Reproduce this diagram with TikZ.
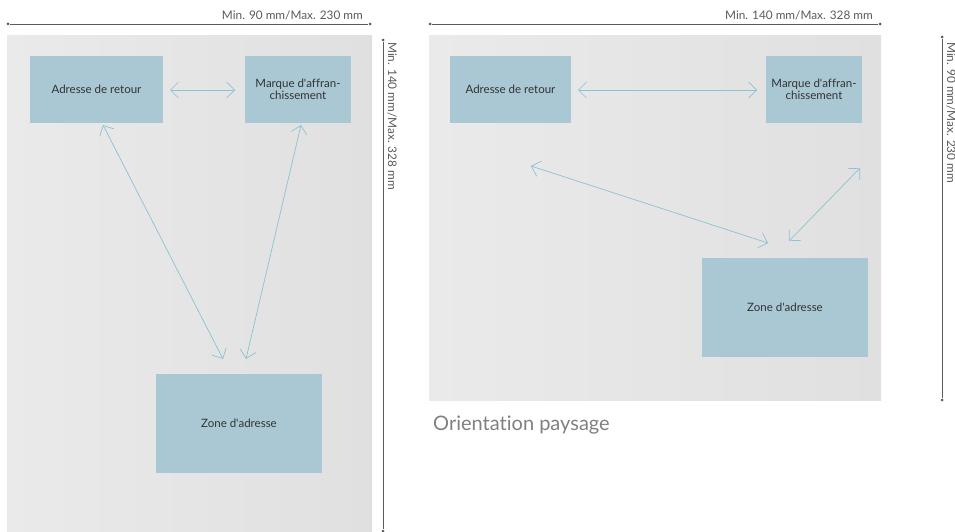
\documentclass[tikz,border=0pt]{standalone}
\usepackage{fontspec}
\setmainfont{Lato}[Ligatures=NoCommon]
\usetikzlibrary{arrows.meta}
\definecolor{boxblue}{HTML}{A9C8D3}
\definecolor{arrowblue}{HTML}{8CC2D4}
\definecolor{paper}{HTML}{EAEAEA}
\definecolor{paperdark}{HTML}{E0E0E0}
\definecolor{dimgray}{HTML}{5A5A5A}
\definecolor{txtgray}{HTML}{333333}
\tikzset{
  sheet/.style={draw=none, left color=paper, right color=paperdark},
  field/.style={fill=boxblue, draw=none, text=txtgray, font=\fontsize{11.5}{11.5}\selectfont, align=center, inner sep=0pt},
  link/.style={draw=arrowblue, line width=0.7pt, {Straight Barb[length=8pt,width=16pt,line width=0.7pt]}-{Straight Barb[length=8pt,width=16pt,line width=0.7pt]}},
  dimline/.style={draw=dimgray, line width=0.7pt},
  dimdot/.style={circle, fill=dimgray, inner sep=0pt, minimum size=3pt},
  dimtext/.style={text=dimgray, font=\fontsize{11.8}{12}\selectfont, inner sep=0pt},
}
\begin{document}
\begin{tikzpicture}[x=1pt,y=-1pt]
\useasboundingbox (0,0) rectangle (955,532);
% ===== left (portrait) =====
\fill[sheet] (7,36) rectangle (372,532);
\node[dimdot] (lt1) at (8,24) {};
\node[dimdot] (lt2) at (370,24) {};
\draw[dimline] (lt1) -- (lt2);
\node[dimtext, anchor=south east] (ltt) at (363,20) {Min. 90 mm/Max. 230 mm};
\node[dimdot] (lv1) at (383,40) {};
\node[dimdot] (lv2) at (383,531) {};
\draw[dimline] (lv1) -- (lv2);
\node[dimtext, rotate=-90, anchor=north west] (lvt) at (397,42) {Min. 140 mm/Max. 328 mm};

\node[field, minimum width=133pt, minimum height=67pt] (la) at (96.5,89.5) {Adresse de retour};
\node[field, minimum width=106pt, minimum height=67pt] (lm) at (298,89.5) {Marque d\textquotesingle affran-\\chissement};
\node[field, minimum width=166pt, minimum height=99pt] (lz) at (239,423.5) {Zone d\textquotesingle adresse};
\coordinate (la1) at (170,90);
\coordinate (lm1) at (235,90);
\draw[link] (la1) -- (lm1);
\coordinate (la2) at (103,125);
\coordinate (lz1) at (223,359);
\draw[link] (la2) -- (lz1);
\coordinate (lm2) at (301,125);
\coordinate (lz2) at (246,359);
\draw[link] (lm2) -- (lz2);

% ===== right (landscape) =====
\fill[sheet] (429,36) rectangle (881,400);
\node[dimdot] (rt1) at (430,24) {};
\node[dimdot] (rt2) at (880,24) {};
\draw[dimline] (rt1) -- (rt2);
\node[dimtext, anchor=south east] (rtt) at (873,20) {Min. 140 mm/Max. 328 mm};
\node[dimdot] (rv1) at (942,37) {};
\node[dimdot] (rv2) at (942,400) {};
\draw[dimline] (rv1) -- (rv2);
\node[dimtext, rotate=-90, anchor=north west] (rvt) at (956,42) {Min. 90 mm/Max. 230 mm};

\node[field, minimum width=121pt, minimum height=67pt] (ra) at (510.5,89.5) {Adresse de retour};
\node[field, minimum width=96pt, minimum height=67pt] (rm) at (814,89.5) {Marque d\textquotesingle affran-\\chissement};
\node[field, minimum width=166pt, minimum height=99pt] (rz) at (785,307.5) {Zone d\textquotesingle adresse};
\coordinate (ra1) at (578,90);
\coordinate (rm1) at (757,90);
\draw[link] (ra1) -- (rm1);
\coordinate (ra2) at (531,166);
\coordinate (rz1) at (768,243);
\draw[link] (ra2) -- (rz1);
\coordinate (rm2) at (860,168);
\coordinate (rz2) at (789,241);
\draw[link] (rm2) -- (rz2);

\node[anchor=west, text=black!50, font=\fontsize{20}{21}\selectfont, inner sep=0pt] (cap) at (433,425) {Orientation paysage};
\end{tikzpicture}
\end{document}
